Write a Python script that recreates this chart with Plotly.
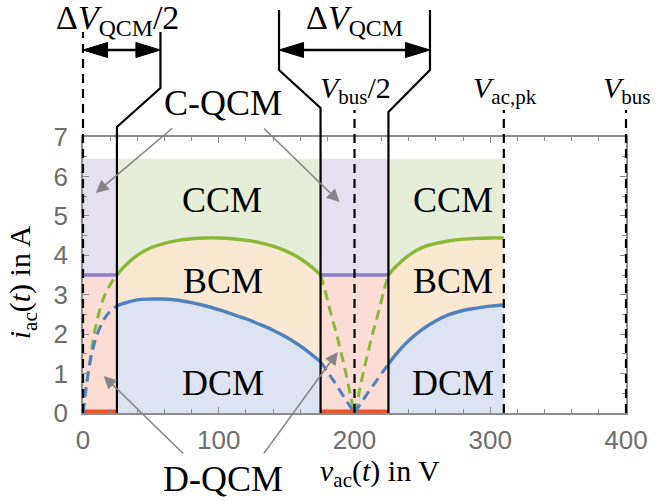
import plotly.graph_objects as go

# ---------------- data ----------------
v_left = [25, 30, 40, 50, 60, 70, 80, 90, 100, 110, 120, 130, 140, 150, 160, 170, 175]
i_dcm_left = [2.72, 2.78, 2.87, 2.89, 2.89, 2.86, 2.80, 2.72, 2.62, 2.51, 2.39, 2.25, 2.10, 1.92, 1.70, 1.44, 1.30]
i_ccm_left = [3.50, 3.70, 4.00, 4.19, 4.30, 4.38, 4.42, 4.44, 4.44, 4.42, 4.38, 4.32, 4.23, 4.10, 3.92, 3.66, 3.50]

v_right = [225, 230, 240, 250, 260, 270, 280, 290, 300, 310]
i_dcm_right = [1.24, 1.47, 1.84, 2.12, 2.34, 2.50, 2.60, 2.66, 2.71, 2.74]
i_ccm_right = [3.50, 3.70, 4.00, 4.20, 4.30, 4.37, 4.41, 4.43, 4.44, 4.44]

v_q1 = [0, 1, 2.5, 5, 7.5, 10, 15, 20, 25]
i_q1_ccm = [0, 0.30, 0.70, 1.30, 1.85, 2.30, 2.90, 3.25, 3.50]
i_q1_dcm = [0, 0.30, 0.70, 1.25, 1.65, 1.95, 2.35, 2.58, 2.72]

v_q2a = [175, 178, 182, 186, 190, 194, 197, 200]
i_q2a_ccm = [3.50, 3.15, 2.60, 2.10, 1.55, 0.95, 0.45, 0]
v_q2b = [200, 203, 206, 210, 214, 218, 222, 225]
i_q2b_ccm = [0, 0.45, 0.95, 1.55, 2.10, 2.60, 3.15, 3.50]
v_q2c = [175, 180, 185, 190, 195, 200]
i_q2c_dcm = [1.30, 1.05, 0.80, 0.53, 0.26, 0]
v_q2d = [200, 205, 210, 215, 220, 225]
i_q2d_dcm = [0, 0.26, 0.52, 0.76, 1.00, 1.24]

qcm_zones = [(0, 25), (175, 225)]
i_qcm = 3.5
i_top = 6.45
v_bus = 400
v_bus_half = 200
v_ac_pk = 310
x_ticks = [0, 100, 200, 300, 400]
y_ticks = [0, 1, 2, 3, 4, 5, 6, 7]

# ---------------- styles ----------------
C_DCM = "#dde3f0"
C_BCM = "#f9e9d3"
C_CCM = "#e6edd8"
C_CQ = "#e4e0ef"
C_DQ = "#fbddd6"
BLUE = "#5080c0"
GREEN = "#8cb83a"
PURPLE = "#8a80c2"
ORANGE = "#e8552b"
SERIF = "Liberation Serif"

W, H = 660, 502
L, R, T, B = 83, 23, 137, 89
PW, PH = W - L - R, H - T - B
xr = [0, 400]
yr = [0, 7]


def xp(v):
    return (v - xr[0]) / (xr[1] - xr[0])


def ppx(px):
    return (px - L) / PW


def ppy(py):
    return (H - B - py) / PH


fig = go.Figure()

# QCM rectangles
for a, b in qcm_zones:
    fig.add_trace(go.Scatter(x=[a, b, b, a, a], y=[0, 0, i_qcm, i_qcm, 0], fill="toself",
                             fillcolor=C_DQ, line=dict(width=0), mode="lines", hoverinfo="skip"))
    fig.add_trace(go.Scatter(x=[a, b, b, a, a], y=[i_qcm, i_qcm, i_top, i_top, i_qcm], fill="toself",
                             fillcolor=C_CQ, line=dict(width=0), mode="lines", hoverinfo="skip"))

# DCM / BCM / CCM regions
for vv, idcm, iccm in [(v_left, i_dcm_left, i_ccm_left), (v_right, i_dcm_right, i_ccm_right)]:
    fig.add_trace(go.Scatter(x=vv, y=idcm, fill="tozeroy", fillcolor=C_DCM, line=dict(width=0),
                             mode="lines", hoverinfo="skip"))
    fig.add_trace(go.Scatter(x=vv, y=iccm, fill="tonexty", fillcolor=C_BCM, line=dict(width=0),
                             mode="lines", hoverinfo="skip"))
    fig.add_trace(go.Scatter(x=vv, y=[i_top] * len(vv), fill="tonexty", fillcolor=C_CCM,
                             line=dict(width=0), mode="lines", hoverinfo="skip"))

# purple and orange lines
for a, b in qcm_zones:
    fig.add_trace(go.Scatter(x=[a, b], y=[i_qcm, i_qcm], mode="lines",
                             line=dict(color=PURPLE, width=3.5), hoverinfo="skip"))
    fig.add_trace(go.Scatter(x=[a, b], y=[0.04, 0.04], mode="lines",
                             line=dict(color=ORANGE, width=4), hoverinfo="skip"))

# dashed curves
dash = "10px,6px"
for vv, ii, col in [(v_q1, i_q1_ccm, GREEN), (v_q1, i_q1_dcm, BLUE),
                    (v_q2a, i_q2a_ccm, GREEN), (v_q2b, i_q2b_ccm, GREEN),
                    (v_q2c, i_q2c_dcm, BLUE), (v_q2d, i_q2d_dcm, BLUE)]:
    fig.add_trace(go.Scatter(x=vv, y=ii, mode="lines", line=dict(color=col, width=3, dash=dash,
                                                                  shape="spline"), hoverinfo="skip"))

# solid curves
for vv, ii, col in [(v_left, i_ccm_left, GREEN), (v_left, i_dcm_left, BLUE),
                    (v_right, i_ccm_right, GREEN), (v_right, i_dcm_right, BLUE)]:
    fig.add_trace(go.Scatter(x=vv, y=ii, mode="lines", line=dict(color=col, width=3.4, shape="spline"),
                             hoverinfo="skip"))

shapes = []
# dashed vertical guides
for v, top in [(0, 32), (v_bus_half, 110), (v_ac_pk, 110), (v_bus, 110)]:
    shapes.append(dict(type="line", xref="paper", yref="paper", x0=xp(v), x1=xp(v), y0=0, y1=ppy(top),
                       line=dict(color="black", width=2.2, dash="9px,6px")))

# solid jogged boundary lines
jogs = [
    (qcm_zones[0][1], 127, 162, 88, 32),
    (qcm_zones[1][0], 108, 283, 70, 10),
    (qcm_zones[1][1], 112, 437, 70, 10),
]
for v, ybend, xnew, ybend2, ytop in jogs:
    path = (f"M {xp(v)},0 L {xp(v)},{ppy(ybend)} L {ppx(xnew)},{ppy(ybend2)} "
            f"L {ppx(xnew)},{ppy(ytop)}")
    shapes.append(dict(type="path", xref="paper", yref="paper", path=path,
                       line=dict(color="black", width=2.2)))

# double arrows
for x0, x1 in [(83, 162), (283, 437)]:
    ya = 50
    shapes.append(dict(type="line", xref="paper", yref="paper", x0=ppx(x0 + 5), x1=ppx(x1 - 5),
                       y0=ppy(ya), y1=ppy(ya), line=dict(color="black", width=2.5)))
    for tip, base in [(x0, x0 + 25), (x1, x1 - 25)]:
        p = (f"M {ppx(tip)},{ppy(ya)} L {ppx(base)},{ppy(ya - 7.5)} "
             f"L {ppx(base)},{ppy(ya + 7.5)} Z")
        shapes.append(dict(type="path", xref="paper", yref="paper", path=p,
                           fillcolor="black", line=dict(color="black", width=1)))

annotations = []


def label(text, px, py, size=36):
    annotations.append(dict(text=text, xref="paper", yref="paper", x=ppx(px), y=ppy(py),
                            showarrow=False, xanchor="center", yanchor="middle",
                            font=dict(family=SERIF, size=size, color="black")))


label("CCM", 225, 200)
label("BCM", 226, 281)
label("DCM", 226, 383)
label("CCM", 461, 200)
label("BCM", 461, 281)
label("DCM", 461, 383)
label("C-QCM", 226, 103)
label("D-QCM", 226, 479)
label("Δ<i>V</i><sub>QCM</sub>/2", 118, 20, size=34)
label("Δ<i>V</i><sub>QCM</sub>", 360, 20, size=34)
label("<i>V</i><sub>bus</sub>/2", 361, 90, size=30)
label("<i>V</i><sub>ac,pk</sub>", 514, 90, size=30)
label("<i>V</i><sub>bus</sub>", 638, 90, size=30)
label("<i>v</i><sub>ac</sub>(<i>t</i>) in V", 386, 473, size=30)
annotations.append(dict(text="<i>i</i><sub>ac</sub>(<i>t</i>) in A", xref="paper", yref="paper",
                        x=ppx(21), y=ppy(282), showarrow=False, textangle=-90,
                        xanchor="center", yanchor="middle",
                        font=dict(family=SERIF, size=30, color="black")))

# gray pointer arrows (tip in data coords, tail offset in pixels)
for tx, ty, ax, ay in [(9.4, 5.58, 78, -66), (189, 5.35, -77, -75),
                       (15.2, 0.94, 81, 79), (187.7, 1.55, -75, 103)]:
    annotations.append(dict(x=tx, y=ty, xref="x", yref="y", ax=ax, ay=ay, text="",
                            showarrow=True, arrowhead=2, arrowsize=1.6, arrowwidth=1.6,
                            arrowcolor="#858585"))

AX = dict(showline=True, linecolor="#8c8c8c", linewidth=1.5, mirror="ticks", ticks="inside",
          tickcolor="#8c8c8c", ticklen=6, tickwidth=1.2, showgrid=False, zeroline=False,
          tickfont=dict(family="Liberation Sans", size=26, color="#6e6e6e"))

fig.update_layout(
    width=W, height=H, margin=dict(l=L, r=R, t=T, b=B),
    paper_bgcolor="white", plot_bgcolor="white", showlegend=False,
    xaxis=dict(range=xr, tickvals=x_ticks, ticklabelstandoff=3,
               minor=dict(dtick=20, ticks="inside", ticklen=4, tickcolor="#8c8c8c"), **AX),
    yaxis=dict(range=yr, tickvals=y_ticks, ticklabelstandoff=8,
               minor=dict(dtick=0.5, ticks="inside", ticklen=4, tickcolor="#8c8c8c"), **AX),
    shapes=shapes, annotations=annotations,
)

fig.write_html("out.html")
